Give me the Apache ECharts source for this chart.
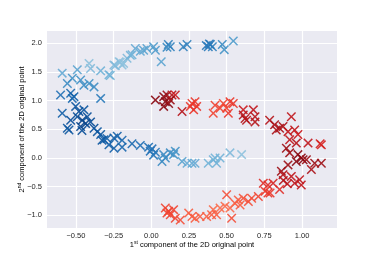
<!DOCTYPE html>
<html><head><meta charset="utf-8">
<script src="https://cdn.jsdelivr.net/npm/echarts@6/dist/echarts.min.js"></script>
<style>html,body{margin:0;padding:0;background:#fff}#c{width:374px;height:257px}</style>
</head><body><div id="c"></div>
<script>
// Upper moon (Blues): x, y, and colour level (0 light .. 1 dark)
const blueX=[0.365,0.378,0.392,0.405,0.385,0.471,0.484,0.544,
0.113,0.126,0.104,0.212,0.237,0.066,0.015,0.027,-0.029,-0.051,-0.073,-0.106,-0.128,-0.161,-0.184,-0.194,-0.206,-0.239,-0.272,-0.214,-0.248,-0.281,-0.336,-0.403,-0.413,
-0.591,-0.491,-0.524,-0.469,-0.447,-0.413,-0.38,-0.557,-0.602,-0.535,-0.513,-0.524,-0.336,
-0.591,-0.502,-0.48,-0.447,-0.491,-0.458,-0.425,-0.535,-0.436,-0.403,-0.469,-0.557,-0.38,-0.546,-0.46,-0.358,-0.336,
-0.314,-0.294,-0.248,-0.226,-0.248,-0.281,-0.327,-0.194,-0.194,-0.128,-0.073,-0.018,0.005,-0.007,0.027,0.015,
0.082,0.093,0.071,0.126,0.159,0.148,0.204,0.237,0.27,0.29,0.378,0.411,0.423,0.456,0.522,0.599,0.433,-0.139];
const blueY=[1.96,1.94,1.98,1.94,1.99,1.98,1.89,2.04,
1.98,1.94,1.93,1.94,1.98,1.68,1.94,1.88,1.91,1.88,1.86,1.91,1.80,1.74,1.65,1.62,1.67,1.61,1.44,1.68,1.62,1.45,1.52,1.56,1.65,
1.48,1.54,1.39,1.36,1.27,1.30,1.24,1.30,1.10,1.13,1.07,1.04,1.04,
0.78,0.90,0.81,0.84,0.72,0.66,0.72,0.66,0.60,0.63,0.55,0.52,0.52,0.49,0.48,0.46,0.41,
0.32,0.34,0.35,0.38,0.17,0.23,0.31,0.31,0.19,0.25,0.22,0.19,0.16,0.12,0.10,0.05,
0.06,0.00,-0.06,0.09,0.12,0.06,-0.06,-0.09,-0.09,-0.09,-0.09,-0.03,0.00,0.00,0.09,0.06,-0.09,1.79];
const blueShade=[0.7,0.7,0.7,0.65,0.7,0.6,0.55,0.5,
0.65,0.65,0.6,0.65,0.65,0.45,0.5,0.5,0.45,0.45,0.4,0.4,0.35,0.3,0.25,0.25,0.25,0.3,0.35,0.25,0.3,0.35,0.35,0.3,0.25,
0.4,0.45,0.55,0.55,0.6,0.55,0.6,0.6,0.75,0.8,0.85,0.8,0.7,
0.85,0.9,0.95,0.9,0.95,1.0,0.95,0.95,1.0,0.95,1.0,0.9,0.95,0.9,0.95,0.9,0.9,
0.85,0.85,0.85,0.85,0.85,0.85,0.9,0.8,0.8,0.8,0.75,0.75,0.75,0.75,0.7,0.7,
0.6,0.6,0.6,0.6,0.55,0.55,0.45,0.4,0.4,0.4,0.35,0.35,0.35,0.35,0.3,0.25,0.35,0.35];

// Lower moon (Reds)
const redX=[0.027,0.082,0.104,0.093,0.115,0.082,0.137,0.159,0.126,0.204,
0.259,0.27,0.281,0.29,0.301,0.423,0.411,0.478,0.5,0.522,0.544,0.511,0.456,
0.61,0.622,0.677,0.688,0.632,0.688,0.61,0.785,0.818,0.851,0.874,0.929,0.951,0.829,0.907,0.973,0.918,0.962,1.04,1.128,1.12,
0.896,0.918,0.973,0.995,1.007,1.029,0.962,1.084,1.128,0.907,1.062,0.863,0.874,0.929,0.984,0.995,0.951,0.902,0.876,
0.808,0.774,0.851,0.774,0.743,0.755,0.788,0.71,0.666,0.644,0.61,0.577,0.589,0.555,0.5,0.489,0.522,0.533,0.456,0.411,0.4,0.367,0.323,0.29,0.433,
0.093,0.115,0.148,0.126,0.159,0.192,0.248,0.27,0.104];
const redY=[1.01,1.07,1.10,0.98,0.95,0.90,1.10,1.10,1.01,0.81,
0.90,0.95,0.84,0.98,0.90,0.92,0.78,0.95,0.87,0.98,0.95,0.78,0.87,
0.84,0.69,0.84,0.72,0.66,0.63,0.75,0.66,0.58,0.52,0.55,0.72,0.49,0.49,0.46,0.41,0.32,0.26,0.26,0.23,0.25,
0.17,0.09,0.06,0.00,-0.03,-0.03,-0.06,-0.09,-0.09,-0.12,-0.20,-0.23,-0.29,-0.32,-0.38,-0.47,-0.44,-0.45,-0.39,
-0.44,-0.47,-0.55,-0.61,-0.44,-0.58,-0.61,-0.67,-0.70,-0.76,-0.70,-0.73,-0.82,-0.79,-0.64,-0.84,-0.87,-1.05,-0.87,-0.90,-0.99,-1.02,-1.02,-1.05,-0.99,
-0.87,-0.93,-0.90,-0.99,-1.05,-1.08,-0.96,-1.02,-0.96];
const redShade=[0.95,0.95,0.9,0.95,0.95,0.95,0.8,0.7,0.9,0.8,
0.55,0.55,0.55,0.55,0.55,0.5,0.5,0.5,0.5,0.55,0.55,0.55,0.5,
0.7,0.8,0.75,0.8,0.8,0.8,0.8,0.8,0.85,0.85,0.85,0.75,0.75,0.85,0.75,0.7,0.75,0.8,0.75,0.65,0.65,
0.9,0.9,0.95,0.95,0.95,0.9,0.95,0.9,0.9,0.9,0.85,0.9,0.8,0.75,0.75,0.75,0.75,0.75,0.8,
0.65,0.6,0.6,0.55,0.6,0.55,0.55,0.5,0.45,0.45,0.45,0.4,0.4,0.4,0.45,0.35,0.35,0.45,0.35,0.35,0.4,0.4,0.4,0.4,0.4,
0.5,0.5,0.5,0.5,0.5,0.45,0.4,0.4,0.5];

const xTicks=[-0.5,-0.25,0,0.25,0.5,0.75,1.0];
const yTicks=[-1,-0.5,0,0.5,1,1.5,2];
const xLimits=[-0.692,1.232];
const yLimits=[-1.22,2.215];

const chart=echarts.init(document.getElementById('c'),null,{renderer:'canvas'});
const X_PATH='path://M0,1.1L1.1,0L5,3.9L8.9,0L10,1.1L6.1,5L10,8.9L8.9,10L5,6.1L1.1,10L0,8.9L3.9,5Z';
const zip=(xs,ys,ss)=>xs.map((x,i)=>[x,ys[i],ss[i]]);
const fmt=(v,d)=>(v<0?'\u2212':'')+Math.abs(v).toFixed(d);
const FONT='"Liberation Sans", Arial, sans-serif';
const labelStyle={color:'#262626',fontSize:7.5,fontFamily:FONT};
const blues=['#c6dbef','#9ecae1','#6baed6','#4292c6','#2171b5','#08519c','#08306b'];
const reds=['#fcbba1','#fc9272','#fb6a4a','#ef3b2c','#cb181d','#a50f15','#67000d'];
const titleRich={a:{fontSize:7.5,fontFamily:FONT,color:'#262626',lineHeight:10},sup:{fontSize:5,fontFamily:FONT,color:'#262626',verticalAlign:'top',lineHeight:10}};
chart.setOption({
  animation:false,
  backgroundColor:'#ffffff',
  grid:{left:47,right:37,top:31,bottom:29,show:true,backgroundColor:'#EAEAF2',borderWidth:0},
  xAxis:{type:'value',min:xLimits[0],max:xLimits[1],
    axisLine:{show:false},axisTick:{show:false,customValues:xTicks},
    axisLabel:Object.assign({customValues:xTicks,margin:4,formatter:v=>fmt(v,2)},labelStyle),
    splitLine:{show:true,lineStyle:{color:'#ffffff',width:1.2}}},
  yAxis:{type:'value',min:yLimits[0],max:yLimits[1],
    axisLine:{show:false},axisTick:{show:false,customValues:yTicks},
    axisLabel:Object.assign({customValues:yTicks,margin:5,formatter:v=>fmt(v,1)},labelStyle),
    splitLine:{show:true,lineStyle:{color:'#ffffff',width:1.2}}},
  visualMap:[
    {show:false,type:'continuous',seriesIndex:0,dimension:2,min:0,max:1.12,inRange:{color:blues}},
    {show:false,type:'continuous',seriesIndex:1,dimension:2,min:0,max:1.05,inRange:{color:reds}}
  ],
  series:[
    {type:'scatter',data:zip(blueX,blueY,blueShade),symbol:X_PATH,symbolSize:9.5,itemStyle:{opacity:0.9}},
    {type:'scatter',data:zip(redX,redY,redShade),symbol:X_PATH,symbolSize:9.5,itemStyle:{opacity:0.9}}
  ],
  graphic:[
    {type:'text',x:192,y:245,style:{text:'{a|1}{sup|st}{a| component of the 2D original point}',rich:titleRich,align:'center',verticalAlign:'middle'}},
    {type:'text',x:21.7,y:129.5,rotation:Math.PI/2,style:{text:'{a|2}{sup|nd}{a| component of the 2D original point}',rich:titleRich,align:'center',verticalAlign:'middle'}}
  ]
});
</script></body></html>
